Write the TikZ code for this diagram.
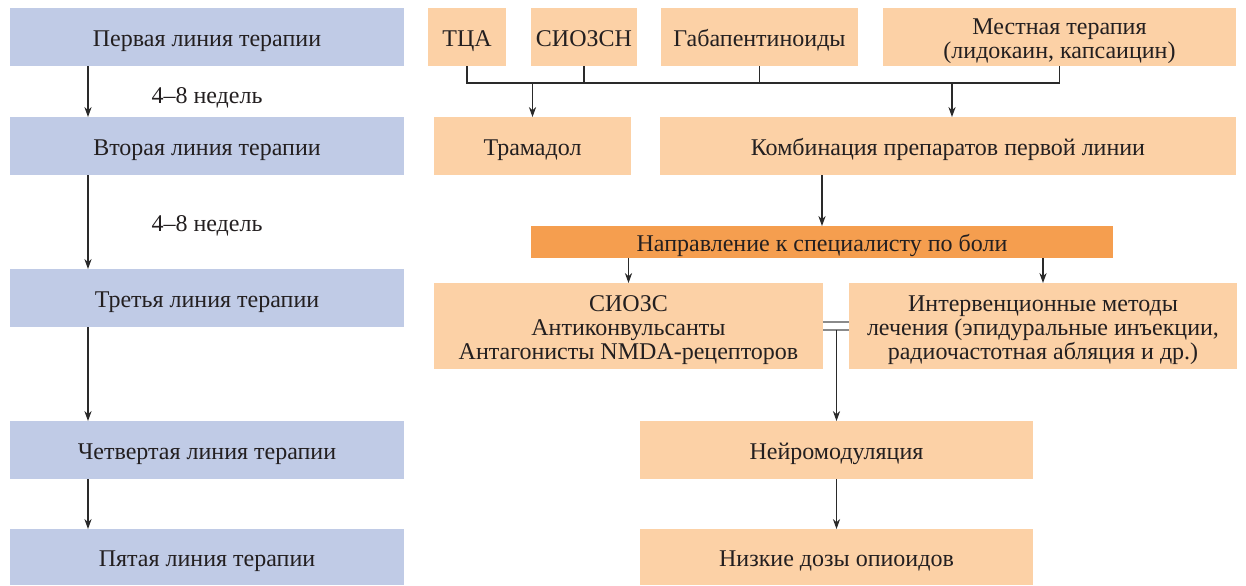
\documentclass[tikz,border=0pt]{standalone}
\usepackage{fontspec}
\setmainfont{Liberation Serif}
\usetikzlibrary{arrows.meta}
\definecolor{bluebox}{HTML}{C0CBE6}
\definecolor{lorange}{HTML}{FCD1A6}
\definecolor{dorange}{HTML}{F59E4F}
\definecolor{txt}{HTML}{231F20}
\definecolor{lnc}{HTML}{2A2A2A}
\definecolor{dlc}{HTML}{8A8A8A}
\newcommand{\topst}{\rule{0pt}{12.5pt}}
\newcommand{\botst}{\rule[-3pt]{0pt}{3pt}}
\tikzset{
  basebox/.style={inner sep=0pt, outer sep=0pt, text=txt, font=\fontsize{12}{12}\selectfont},
  box/.style={basebox, text height=12.5pt, text depth=3pt},
  mbox/.style={basebox, align=center, fill=lorange},
  lbox/.style={box, fill=bluebox, minimum width=197pt, minimum height=29pt},
  obox/.style={box, fill=lorange},
  conn/.style={draw=lnc, line width=0.55pt},
  arr/.style={conn, -{Stealth[length=5pt,width=3.6pt,inset=1.6pt]}},
  dline/.style={draw=dlc, line width=0.8pt},
  lbl/.style={text=txt, font=\fontsize{12}{12}\selectfont, inner sep=0pt, text height=12.5pt, text depth=3pt}
}
\begin{document}
\begin{tikzpicture}[x=0.5pt, y=-0.5pt]
\useasboundingbox (0,0) rectangle (1246,585);
% left column
\node[lbox] (L1) at (207,37) {Первая линия терапии};
\node[lbox] (L2) at (207,146) {Вторая линия терапии};
\node[lbox] (L3) at (207,298) {Третья линия терапии};
\node[lbox] (L4) at (207,450) {Четвертая линия терапии};
\node[lbox, minimum height=28pt] (L5) at (207,557) {Пятая линия терапии};
\node[lbl] (w1) at (207,94) {4–8 недель};
\node[lbl] (w2) at (207,222) {4–8 недель};
\coordinate (ax) at (88,0);
\draw[arr] (L1.south -| ax) -- (L2.north -| ax);
\draw[arr] (L2.south -| ax) -- (L3.north -| ax);
\draw[arr] (L3.south -| ax) -- (L4.north -| ax);
\draw[arr] (L4.south -| ax) -- (L5.north -| ax);
% top row
\node[obox, minimum width=39pt, minimum height=29pt] (T1) at (467,37) {ТЦА};
\node[obox, minimum width=53pt, minimum height=29pt] (T2) at (584,37) {СИОЗСН};
\node[obox, minimum width=98.5pt, minimum height=29pt] (T3) at (759.5,37) {Габапентиноиды};
\node[mbox, minimum width=176.5pt, minimum height=29pt] (T4) at (1059.5,37) {\topst Местная терапия\\(лидокаин, капсаицин)\botst};
% second row
\node[obox, minimum width=98.5pt, minimum height=29pt] (tram) at (532.5,146) {Трамадол};
\node[obox, minimum width=288pt, minimum height=29pt] (komb) at (948,146) {Комбинация препаратов первой линии};
% referral
\node[box, fill=dorange, minimum width=291pt, minimum height=16pt] (napr) at (822,242) {Направление к специалисту по боли};
% third row
\node[mbox, minimum width=194.5pt, minimum height=43pt] (siozs) at (628.5,326) {\topst СИОЗС\\Антиконвульсанты\\Антагонисты NMDA-рецепторов\botst};
\node[mbox, minimum width=194pt, minimum height=43pt] (interv) at (1043,326) {\topst Интервенционные методы\\лечения (эпидуральные инъекции,\\радиочастотная абляция и др.)\botst};
% fourth, fifth
\node[obox, minimum width=196.5pt, minimum height=29pt] (neuro) at (836.5,450) {Нейромодуляция};
\node[obox, minimum width=196.5pt, minimum height=28pt] (nizk) at (836.5,557) {Низкие дозы опиоидов};
% top bus
\coordinate (bus) at (0,83);
\draw[conn] (T1.south) -- (T1.south |- bus) -- (T4.south |- bus) -- (T4.south);
\draw[conn] (T2.south) -- (T2.south |- bus);
\draw[conn] (T3.south) -- (T3.south |- bus);
\coordinate (kj) at (952,83);
\draw[arr] (tram.north |- bus) -- (tram.north);
\draw[arr] (kj) -- (kj |- komb.north);
% to referral
\draw[arr] (komb.south -| napr.north) -- (napr.north);
\draw[arr] (napr.south -| siozs.north) -- (siozs.north);
\draw[arr] (napr.south -| interv.north) -- (interv.north);
% double line
\draw[dline] ([yshift=1.9pt]siozs.east) -- ([yshift=1.9pt]interv.west);
\draw[dline] ([yshift=-1.9pt]siozs.east) -- ([yshift=-1.9pt]interv.west);
\coordinate (dj) at ([yshift=-1.9pt]siozs.east -| neuro.north);
\draw[arr] (dj) -- (neuro.north);
\draw[arr] (neuro.south) -- (nizk.north);
\end{tikzpicture}
\end{document}
